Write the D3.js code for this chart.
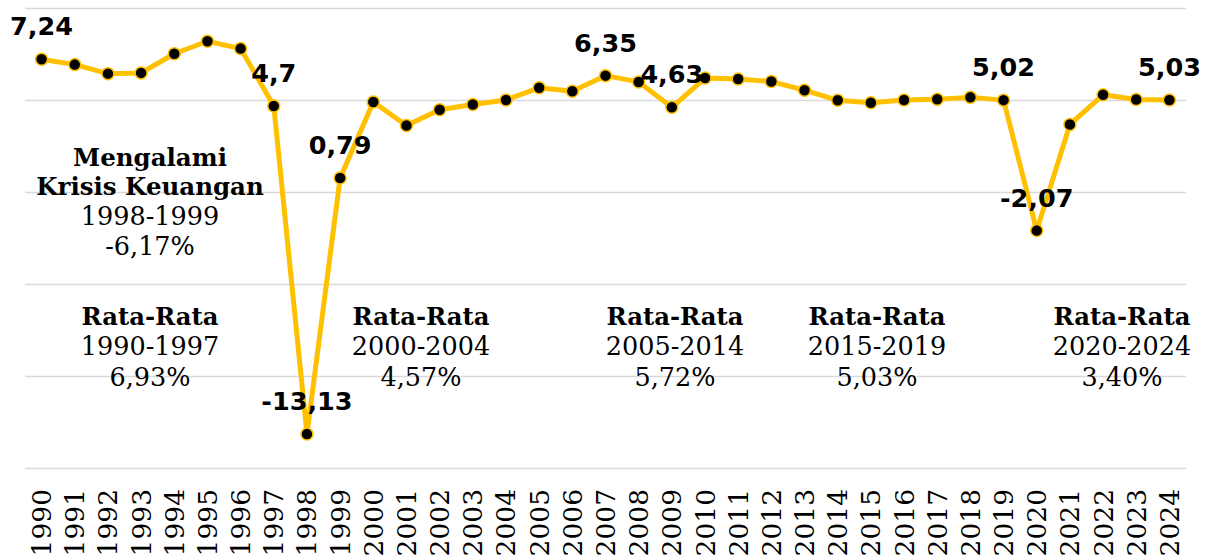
<!DOCTYPE html>
<html>
<head>
<meta charset="utf-8">
<script src="https://cdn.jsdelivr.net/npm/d3@7"></script>
<style>
  body { margin: 0; background: #fff; }
  svg { display: block; }
</style>
</head>
<body>
<div id="chart"><svg></svg></div>
<script>
// PDB growth, Indonesia (%)
var years = [1990, 1991, 1992, 1993, 1994, 1995, 1996, 1997, 1998, 1999,
             2000, 2001, 2002, 2003, 2004, 2005, 2006, 2007, 2008, 2009,
             2010, 2011, 2012, 2013, 2014, 2015, 2016, 2017, 2018, 2019,
             2020, 2021, 2022, 2023, 2024];
var growth = [7.24, 6.95, 6.46, 6.50, 7.54, 8.22, 7.82, 4.70, -13.13, 0.79,
              4.92, 3.64, 4.50, 4.78, 5.03, 5.69, 5.50, 6.35, 6.01, 4.63,
              6.22, 6.17, 6.03, 5.56, 5.01, 4.88, 5.03, 5.07, 5.17, 5.02,
              -2.07, 3.70, 5.31, 5.05, 5.03];
var labelledYears = [1990, 1997, 1998, 1999, 2007, 2009, 2019, 2020, 2024];
var gridTicks = [10, 5, 0, -5, -10, -15];

var averages = [
    {title: "Rata-Rata", period: "1990-1997", value: "6,93%", from: 1990, to: 1997},
    {title: "Rata-Rata", period: "2000-2004", value: "4,57%", from: 2000, to: 2004},
    {title: "Rata-Rata", period: "2005-2014", value: "5,72%", from: 2005, to: 2014},
    {title: "Rata-Rata", period: "2015-2019", value: "5,03%", from: 2015, to: 2019},
    {title: "Rata-Rata", period: "2020-2024", value: "3,40%", from: 2020, to: 2024}
];

var width = 1214,
    height = 560;

var data = years.map(function(y, i) { return {year: y, value: growth[i]}; });

var svg = d3.select('#chart svg')
    .attr('width', width)
    .attr('height', height);

var x = d3.scaleBand()
    .domain(years)
    .range([25, 1186]);

var y = d3.scaleLinear()
    .domain([-15, 10])
    .range([468.5, 8.5]);

function cx(yr) { return x(yr) + x.bandwidth() / 2; }

// gridlines
svg.append('g')
    .selectAll('line')
    .data(gridTicks)
    .enter()
        .append('line')
            .attr('x1', 25)
            .attr('x2', 1186)
            .attr('y1', d => y(d))
            .attr('y2', d => y(d))
            .style('stroke', '#d9d9d9')
            .style('stroke-width', 1.5);

// year labels, rotated
svg.append('g')
    .selectAll('text')
    .data(years)
    .enter()
        .append('text')
            .attr('transform', d => 'translate(' + (cx(d) + 9.5) + ',489) rotate(-90)')
            .attr('text-anchor', 'end')
            .style('font-family', 'DejaVu Serif, serif')
            .style('font-size', '26.5px')
            .style('fill', '#000')
            .text(d => d);

// averages
var avg = svg.append('g')
    .selectAll('text')
    .data(averages)
    .enter()
        .append('text')
            .attr('text-anchor', 'middle')
            .style('font-family', 'DejaVu Serif, serif')
            .style('font-size', '25.5px')
            .style('fill', '#000');

var avgX = [150, 421, 675, 877, 1122];
avg.append('tspan')
    .attr('x', (d, i) => avgX[i])
    .attr('y', 325)
    .style('font-weight', 'bold')
    .style('font-size', '24.3px')
    .text(d => d.title);
avg.append('tspan')
    .attr('x', (d, i) => avgX[i])
    .attr('y', 355)
    .text(d => d.period);
avg.append('tspan')
    .attr('x', (d, i) => avgX[i])
    .attr('y', 386)
    .text(d => d.value);

// crisis note
var crisis = svg.append('text')
    .attr('text-anchor', 'middle')
    .style('font-family', 'DejaVu Serif, serif')
    .style('fill', '#000');
[['Mengalami', 166, 'bold', 24.5], ['Krisis Keuangan', 195, 'bold', 24.5],
 ['1998-1999', 225, 'normal', 25.5], ['-6,17%', 255, 'normal', 25.5]].forEach(function(l) {
    crisis.append('tspan')
        .attr('x', 150)
        .attr('y', l[1])
        .style('font-weight', l[2])
        .style('font-size', l[3] + 'px')
        .text(l[0]);
});

// the line
var line = d3.line()
    .x(d => cx(d.year))
    .y(d => y(d.value));

svg.append('path')
    .datum(data)
    .attr('d', line)
    .style('fill', 'none')
    .style('stroke', '#ffc000')
    .style('stroke-width', 5)
    .style('stroke-linejoin', 'round');

svg.append('g')
    .selectAll('circle')
    .data(data)
    .enter()
        .append('circle')
            .attr('cx', d => cx(d.year))
            .attr('cy', d => y(d.value))
            .attr('r', 6)
            .style('fill', '#000')
            .style('stroke', '#ffc000')
            .style('stroke-width', 1.5);

// value labels
svg.append('g')
    .selectAll('text')
    .data(data.filter(d => labelledYears.indexOf(d.year) >= 0))
    .enter()
        .append('text')
            .attr('x', d => cx(d.year))
            .attr('y', d => y(d.value) - 24)
            .attr('text-anchor', 'middle')
            .style('font-family', 'DejaVu Sans, sans-serif')
            .style('font-weight', 'bold')
            .style('font-size', '25.5px')
            .style('fill', '#000')
            .text(d => String(d.value).replace('.', ','));
</script>
</body>
</html>
